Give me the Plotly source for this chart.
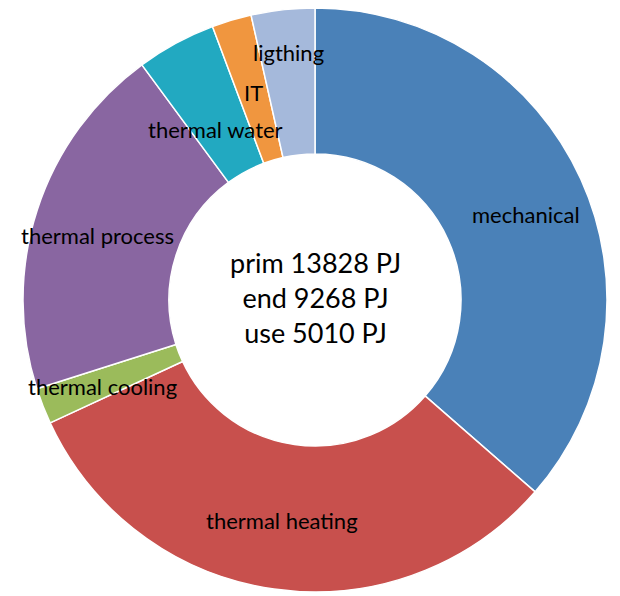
import plotly.graph_objects as go

categories = ["mechanical", "thermal heating", "thermal cooling", "thermal process",
              "thermal water", "IT", "ligthing"]
values_pj = [1824, 1587, 100, 993, 220, 110, 176]
colors = ["#4A81B8", "#C8504D", "#9BBB5B", "#8966A1", "#22A9C1", "#F0963F", "#A5B9DB"]
center_lines = ["prim 13828 PJ", "end 9268 PJ", "use 5010 PJ"]

W, H = 620, 596
OFF = 8  # page body margin of the browser
cx, cy, r = 315 - OFF, 300 - OFF, 292

fig = go.Figure(go.Pie(
    labels=categories,
    values=values_pj,
    hole=0.5,
    sort=False,
    direction="clockwise",
    rotation=0,
    textinfo="none",
    marker=dict(colors=colors, line=dict(color="white", width=1.5)),
    domain=dict(x=[(cx - r) / W, (cx + r) / W],
                y=[max(0.0, 1 - (cy + r) / H), min(1.0, 1 - (cy - r) / H)]),
    showlegend=False,
))

# label anchor positions (pixels in the picture)
label_pos = {
    "mechanical": (526, 214),
    "thermal heating": (282, 520),
    "thermal cooling": (102, 386),
    "thermal process": (97, 235),
    "thermal water": (215, 130),
    "IT": (253, 92),
    "ligthing": (288, 52),
}
font_family = "Lato, 'Open Sans', sans-serif"
annotations = []
for name in categories:
    px, py = label_pos[name]
    annotations.append(dict(x=(px - OFF) / W, y=1 - (py - OFF) / H, xref="paper", yref="paper",
                            text=name, showarrow=False,
                            font=dict(family=font_family, size=22, color="black"),
                            xanchor="center", yanchor="middle"))
annotations.append(dict(x=cx / W, y=1 - (297 - OFF) / H, xref="paper", yref="paper",
                        text="<br>".join(center_lines), showarrow=False,
                        font=dict(family=font_family, size=27, color="black"),
                        xanchor="center", yanchor="middle", align="center"))

fig.update_layout(
    width=W, height=H,
    margin=dict(l=0, r=0, t=0, b=0),
    paper_bgcolor="white", plot_bgcolor="white",
    annotations=annotations,
)
fig.write_html("out.html")
